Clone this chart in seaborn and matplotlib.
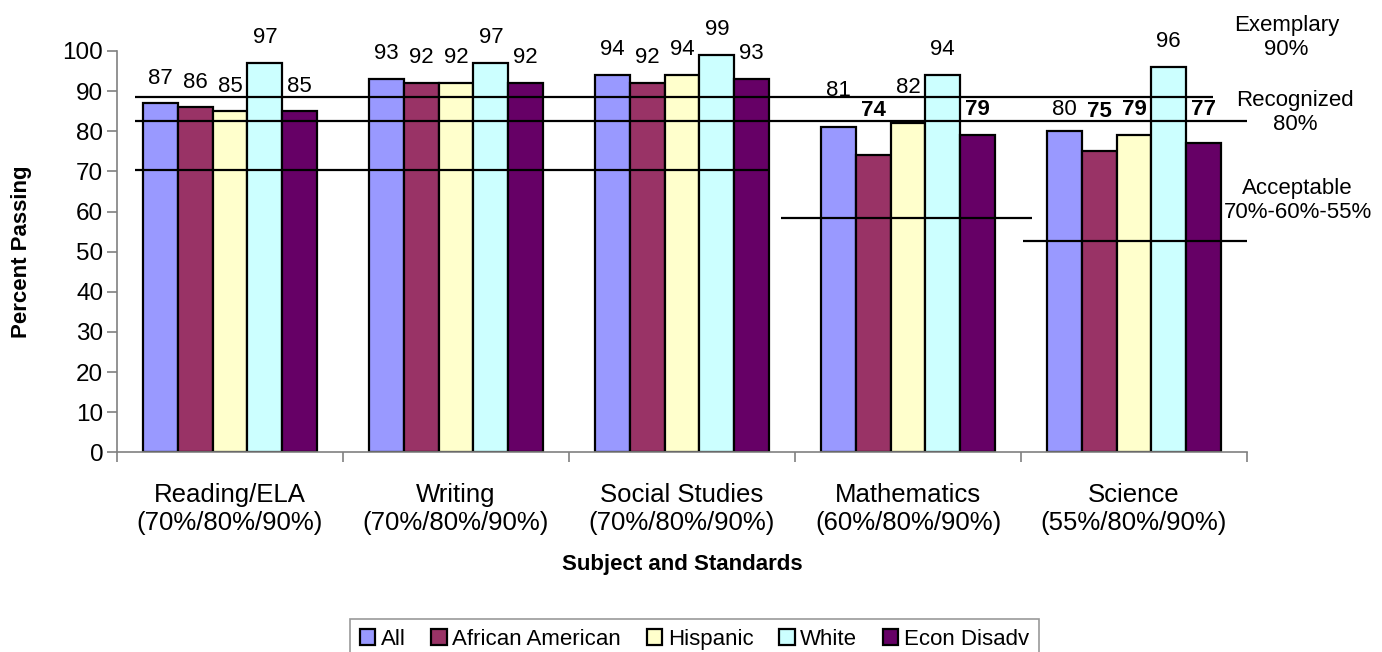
import pandas as pd
import matplotlib.pyplot as plt
import seaborn as sns
from matplotlib.ticker import MultipleLocator, FixedLocator

# --- data ---
subjects = ['Reading/ELA\n(70%/80%/90%)', 'Writing\n(70%/80%/90%)',
            'Social Studies\n(70%/80%/90%)', 'Mathematics\n(60%/80%/90%)',
            'Science\n(55%/80%/90%)']
groups = ['All', 'African American', 'Hispanic', 'White', 'Econ Disadv']
all_students = [87, 93, 94, 81, 80]
african_american = [86, 92, 92, 74, 75]
hispanic = [85, 92, 94, 82, 79]
white = [97, 97, 99, 94, 96]
econ_disadv = [85, 92, 93, 79, 77]
colors = ['#9999FF', '#993366', '#FFFFCC', '#CCFFFF', '#660066']

# labels that sit away from their bar in the original: (subject, group) -> (height, bold)
moved_labels = {
    (3, 0): (90.2, False), (3, 1): (85.2, True), (3, 2): (90.8, False), (3, 4): (85.4, True),
    (4, 0): (85.4, False), (4, 1): (84.8, True), (4, 2): (85.4, True), (4, 4): (85.4, True),
}

# standard lines drawn over the bars: level and span in category units
std_levels = [88.4, 82.5, 70.3, 58.4, 52.6]
std_from = [-0.42, -0.42, -0.42, 2.44, 3.51]
std_to = [4.35, 4.5, 2.38, 3.55, 4.5]

df = pd.DataFrame({
    'Subject': subjects * len(groups),
    'Group': [g for g in groups for _ in subjects],
    'Percent': all_students + african_american + hispanic + white + econ_disadv,
})

sns.set_theme(style='white')
plt.rcParams['font.family'] = ['Liberation Sans', 'DejaVu Sans']
plt.rcParams.update({'text.color': 'black', 'axes.labelcolor': 'black',
                     'xtick.color': 'black', 'ytick.color': 'black'})

fig = plt.figure(figsize=(13.82, 6.52), dpi=100)
ax = fig.add_axes([0.0847, 0.306, 0.8176, 0.616])

sns.barplot(data=df, x='Subject', y='Percent', hue='Group', order=subjects,
            hue_order=groups, palette=colors, saturation=1, width=0.77, gap=0,
            edgecolor='black', linewidth=1.6, ax=ax)

# value labels
for gi, cont in enumerate(ax.containers):
    for si, bar in enumerate(cont):
        val = bar.get_height()
        xc = bar.get_x() + bar.get_width() / 2
        if (si, gi) in moved_labels:
            y, bold = moved_labels[(si, gi)]
            ax.text(xc, y, f'{val:.0f}', ha='center', va='center', fontsize=16,
                    fontweight='bold' if bold else 'normal', clip_on=False, zorder=5)
        else:
            ax.annotate(f'{val:.0f}', (xc, val), xytext=(0, 18), textcoords='offset points',
                        ha='center', va='center', fontsize=16, annotation_clip=False, zorder=5)

# standard lines
for lvl, x0, x1 in zip(std_levels, std_from, std_to):
    ax.plot([x0, x1], [lvl, lvl], color='black', lw=1.6, zorder=4, clip_on=False,
            solid_capstyle='butt')

ax.set_xlim(-0.5, len(subjects) - 0.5)
ax.set_ylim(0, 100)
ax.yaxis.set_major_locator(MultipleLocator(10))
ax.xaxis.set_minor_locator(FixedLocator([i - 0.5 for i in range(len(subjects) + 1)]))
ax.tick_params(axis='x', which='major', length=0, pad=22, labelsize=18.5)
ax.tick_params(axis='x', which='minor', length=7, width=1.2, color='#808080', direction='out')
ax.tick_params(axis='y', length=7, width=1.2, color='#808080', direction='out', pad=3, labelsize=17.5)
ax.tick_params(bottom=True, left=True, which='both')

for side in ['top', 'right']:
    ax.spines[side].set_visible(False)
for side in ['left', 'bottom']:
    ax.spines[side].set_color('#808080')
    ax.spines[side].set_linewidth(1.2)

ax.set_ylabel('Percent Passing', fontsize=16, fontweight='bold', labelpad=22)
ax.set_xlabel('Subject and Standards', fontsize=16, fontweight='bold', labelpad=14)

# level captions at right
fig.text(0.931, 0.943, 'Exemplary\n90%', ha='center', va='center', fontsize=16)
fig.text(0.937, 0.828, 'Recognized\n80%', ha='center', va='center', fontsize=16)
fig.text(0.939, 0.693, 'Acceptable\n70%-60%-55%', ha='center', va='center', fontsize=16)

handles, labels = ax.get_legend_handles_labels()
ax.get_legend().remove()
leg = fig.legend(handles, labels, loc='lower center', bbox_to_anchor=(0.5025, -0.012),
                 ncol=5, frameon=True, fancybox=False, fontsize=16, handlelength=0.7,
                 handleheight=0.7, handletextpad=0.25, columnspacing=1.15,
                 borderpad=0.45, borderaxespad=0)
leg.get_frame().set_edgecolor('#808080')
leg.get_frame().set_linewidth(1.2)

plt.savefig('out.png', dpi=100)
